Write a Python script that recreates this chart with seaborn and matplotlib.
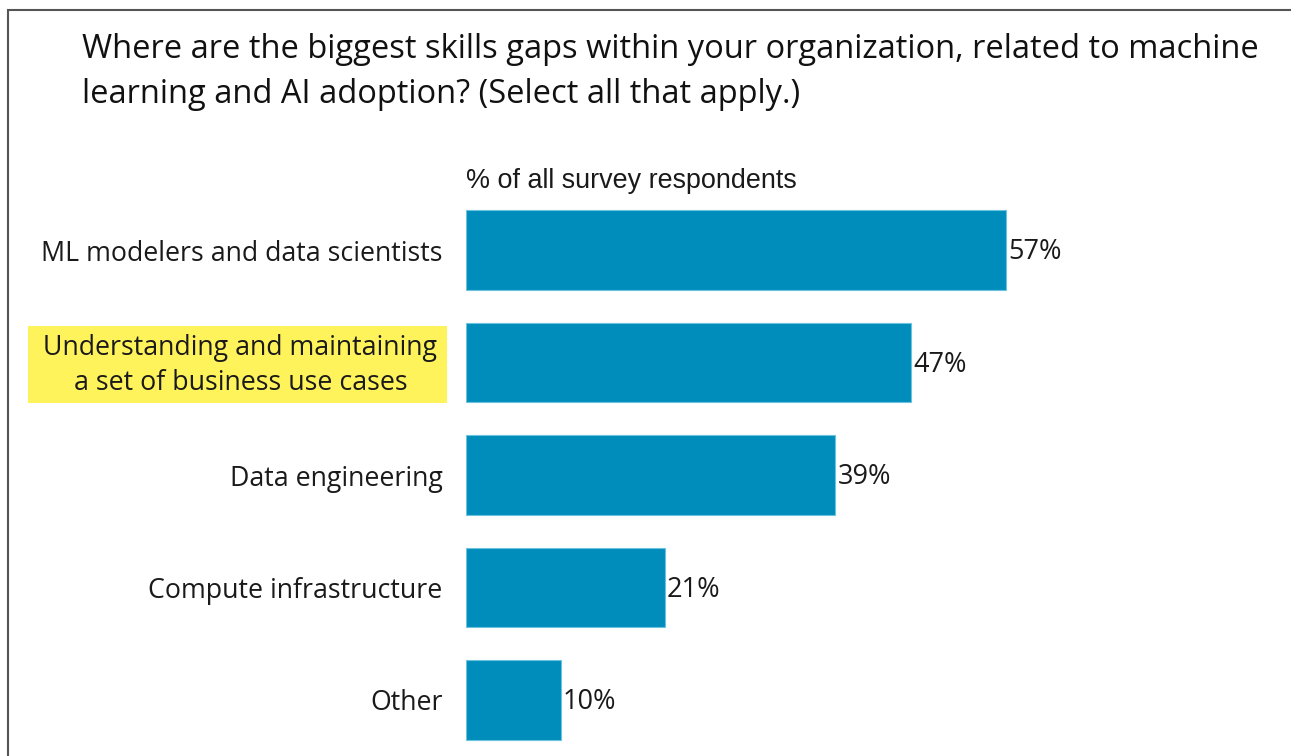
import matplotlib
matplotlib.use("Agg")
import matplotlib.pyplot as plt
import matplotlib.transforms as mtransforms
import seaborn as sns
import pandas as pd
from matplotlib.patches import Rectangle

categories = [
    "ML modelers and data scientists",
    "Understanding and maintaining\na set of business use cases",
    "Data engineering",
    "Compute infrastructure",
    "Other",
]
values = [57, 47, 39, 21, 10]
value_labels = ["57%", "47%", "39%", "21%", "10%"]
highlighted = 1

title = ("Where are the biggest skills gaps within your organization, related to machine\n"
         "learning and AI adoption? (Select all that apply.)")
axis_caption = "% of all survey respondents"

sns.set_theme(style="white")
plt.rcParams['font.family'] = ['Open Sans', 'DejaVu Sans']

W, H = 1291, 756
fig = plt.figure(figsize=(W / 100, H / 100), dpi=100)
fig.patch.set_facecolor("white")

# axes placement (pixel based)
ax_left, ax_right = 466, 1291
ax_top, ax_bot = 193.75, 756.25
ax = fig.add_axes([ax_left / W, 1 - ax_bot / H, (ax_right - ax_left) / W, (ax_bot - ax_top) / H])

df = pd.DataFrame({"category": categories, "value": values})
bar_color = "#008DBB"
sns.barplot(data=df, x="value", y="category", orient="h", color=bar_color,
            width=0.711, edgecolor="#6cc3de", linewidth=0.8, saturation=1, ax=ax)

px_per_unit = 9.47
ax.set_xlim(0, (ax_right - ax_left) / px_per_unit)
ax.set_ylim(4.5, -0.5)
ax.set_xlabel("")
ax.set_ylabel("")
ax.set_xticks([])
for s in ax.spines.values():
    s.set_visible(False)
ax.tick_params(axis="y", length=0, pad=17, labelsize=19.3, labelcolor="#1a1a1a")
for i, lab in enumerate(ax.get_yticklabels()):
    lab.set_multialignment("center")
    lab.set_linespacing(1.35)
    if i == highlighted:
        lab.set_transform(lab.get_transform() +
                          mtransforms.ScaledTranslation(-5 / 100, 4 / 100, fig.dpi_scale_trans))

for i, (v, t) in enumerate(zip(values, value_labels)):
    ax.annotate(t, xy=(v, i), xytext=(1.5, -1.5), textcoords="offset points",
                ha="left", va="center", fontsize=19.5, color="#1a1a1a")

# highlight box behind the second label
fig.patches.append(Rectangle((28 / W, 1 - 403 / H), (447 - 28) / W, (403 - 326) / H,
                             transform=fig.transFigure, facecolor="#FFF35C",
                             edgecolor="none", zorder=-1))

# frame (left and top edges visible)
fig.patches.append(Rectangle((8 / W, -0.05), 1.2, 1 - 10 / H + 0.05,
                             transform=fig.transFigure, facecolor="none",
                             edgecolor="#555555", linewidth=1.5, zorder=-2))

fig.text(82 / W, 1 - 72 / H, title, ha="left", va="center", fontsize=23.5,
         color="#111111", linespacing=1.47)
fig.text(466 / W, 1 - 181 / H, axis_caption, ha="left", va="center",
         fontsize=19.4, color="#1a1a1a", family=["Liberation Sans", "DejaVu Sans"])

fig.savefig("out.png", dpi=100, facecolor="white")
